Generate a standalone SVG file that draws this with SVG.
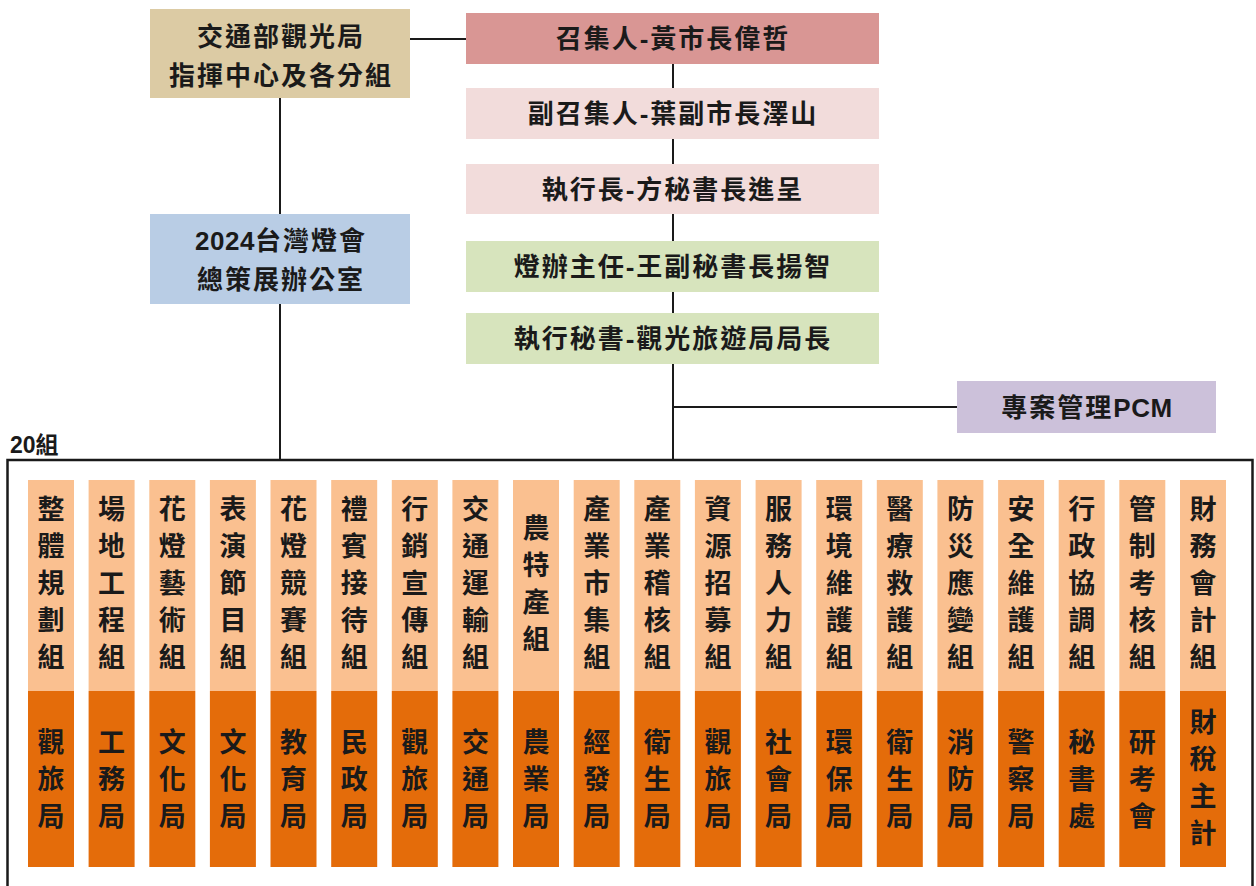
<svg xmlns="http://www.w3.org/2000/svg" width="1256" height="886" viewBox="0 0 1256 886">
<style>
text{font-family:"Liberation Sans","Noto Sans CJK TC","Noto Sans CJK SC",sans-serif;font-weight:bold;fill:#1a1a1a}
.t{font-size:26px;letter-spacing:2px;text-anchor:middle}
.la{letter-spacing:0.5px}
.c{font-size:27px;text-anchor:middle}
.ln{stroke:#1a1a1a;stroke-width:2;fill:none}
.lt{fill:#fac090}
.dk{fill:#e46c0a}
</style>
<rect width="1256" height="886" fill="#ffffff"/>
<g id="connectors">
<line class="ln" x1="410" y1="39" x2="466" y2="39"/>
<line class="ln" x1="280" y1="98" x2="280" y2="214"/>
<line class="ln" x1="280" y1="304" x2="280" y2="460"/>
<line class="ln" x1="673" y1="64" x2="673" y2="460"/>
<line class="ln" x1="673" y1="407" x2="957" y2="407"/>
</g>
<g id="n-moc">
<rect x="150" y="9" width="260" height="89" fill="#dccba4"/>
<text class="t" x="281" y="46">交通部觀光局</text>
<text class="t" x="281" y="85">指揮中心及各分組</text>
</g>
<g id="n-convener">
<rect x="466" y="13" width="413" height="51" fill="#d99694"/>
<text class="t" x="673" y="48">召集人-黃市長偉哲</text>
</g>
<g id="n-deputy">
<rect x="466" y="88" width="413" height="51" fill="#f2dcdb"/>
<text class="t" x="673" y="123">副召集人-葉副市長澤山</text>
</g>
<g id="n-ceo">
<rect x="466" y="164" width="413" height="50" fill="#f2dcdb"/>
<text class="t" x="673" y="199">執行長-方秘書長進呈</text>
</g>
<g id="n-director">
<rect x="466" y="241" width="413" height="51" fill="#d7e4bd"/>
<text class="t" x="673" y="276">燈辦主任-王副秘書長揚智</text>
</g>
<g id="n-secretary">
<rect x="466" y="313" width="413" height="51" fill="#d7e4bd"/>
<text class="t" x="673" y="348">執行秘書-觀光旅遊局局長</text>
</g>
<g id="n-office">
<rect x="150" y="214" width="260" height="90" fill="#b9cde5"/>
<text class="t" x="281" y="250"><tspan class="la">2024</tspan>台灣燈會</text>
<text class="t" x="281" y="289">總策展辦公室</text>
</g>
<g id="n-pcm">
<rect x="957" y="381" width="259" height="52" fill="#ccc1da"/>
<text class="t" x="1087" y="417">專案管理<tspan class="la">PCM</tspan></text>
</g>
<g id="groups">
<text x="10" y="453" style="font-size:23px">20組</text>
<rect x="7.5" y="460" width="1245" height="440" fill="none" stroke="#1a1a1a" stroke-width="2.5"/>
</g>
<g id="g1"><rect class="lt" x="28" y="480" width="46" height="211"/><rect class="dk" x="28" y="691" width="46" height="176"/>
<text class="c"><tspan x="51" y="519">整</tspan><tspan x="51" y="556">體</tspan><tspan x="51" y="593">規</tspan><tspan x="51" y="630">劃</tspan><tspan x="51" y="667">組</tspan></text>
<text class="c"><tspan x="51" y="752">觀</tspan><tspan x="51" y="789">旅</tspan><tspan x="51" y="826">局</tspan></text></g>
<g id="g2"><rect class="lt" x="88.6" y="480" width="46" height="211"/><rect class="dk" x="88.6" y="691" width="46" height="176"/>
<text class="c"><tspan x="111.6" y="519">場</tspan><tspan x="111.6" y="556">地</tspan><tspan x="111.6" y="593">工</tspan><tspan x="111.6" y="630">程</tspan><tspan x="111.6" y="667">組</tspan></text>
<text class="c"><tspan x="111.6" y="752">工</tspan><tspan x="111.6" y="789">務</tspan><tspan x="111.6" y="826">局</tspan></text></g>
<g id="g3"><rect class="lt" x="149.3" y="480" width="46" height="211"/><rect class="dk" x="149.3" y="691" width="46" height="176"/>
<text class="c"><tspan x="172.3" y="519">花</tspan><tspan x="172.3" y="556">燈</tspan><tspan x="172.3" y="593">藝</tspan><tspan x="172.3" y="630">術</tspan><tspan x="172.3" y="667">組</tspan></text>
<text class="c"><tspan x="172.3" y="752">文</tspan><tspan x="172.3" y="789">化</tspan><tspan x="172.3" y="826">局</tspan></text></g>
<g id="g4"><rect class="lt" x="209.9" y="480" width="46" height="211"/><rect class="dk" x="209.9" y="691" width="46" height="176"/>
<text class="c"><tspan x="232.9" y="519">表</tspan><tspan x="232.9" y="556">演</tspan><tspan x="232.9" y="593">節</tspan><tspan x="232.9" y="630">目</tspan><tspan x="232.9" y="667">組</tspan></text>
<text class="c"><tspan x="232.9" y="752">文</tspan><tspan x="232.9" y="789">化</tspan><tspan x="232.9" y="826">局</tspan></text></g>
<g id="g5"><rect class="lt" x="270.5" y="480" width="46" height="211"/><rect class="dk" x="270.5" y="691" width="46" height="176"/>
<text class="c"><tspan x="293.5" y="519">花</tspan><tspan x="293.5" y="556">燈</tspan><tspan x="293.5" y="593">競</tspan><tspan x="293.5" y="630">賽</tspan><tspan x="293.5" y="667">組</tspan></text>
<text class="c"><tspan x="293.5" y="752">教</tspan><tspan x="293.5" y="789">育</tspan><tspan x="293.5" y="826">局</tspan></text></g>
<g id="g6"><rect class="lt" x="331.2" y="480" width="46" height="211"/><rect class="dk" x="331.2" y="691" width="46" height="176"/>
<text class="c"><tspan x="354.2" y="519">禮</tspan><tspan x="354.2" y="556">賓</tspan><tspan x="354.2" y="593">接</tspan><tspan x="354.2" y="630">待</tspan><tspan x="354.2" y="667">組</tspan></text>
<text class="c"><tspan x="354.2" y="752">民</tspan><tspan x="354.2" y="789">政</tspan><tspan x="354.2" y="826">局</tspan></text></g>
<g id="g7"><rect class="lt" x="391.8" y="480" width="46" height="211"/><rect class="dk" x="391.8" y="691" width="46" height="176"/>
<text class="c"><tspan x="414.8" y="519">行</tspan><tspan x="414.8" y="556">銷</tspan><tspan x="414.8" y="593">宣</tspan><tspan x="414.8" y="630">傳</tspan><tspan x="414.8" y="667">組</tspan></text>
<text class="c"><tspan x="414.8" y="752">觀</tspan><tspan x="414.8" y="789">旅</tspan><tspan x="414.8" y="826">局</tspan></text></g>
<g id="g8"><rect class="lt" x="452.4" y="480" width="46" height="211"/><rect class="dk" x="452.4" y="691" width="46" height="176"/>
<text class="c"><tspan x="475.4" y="519">交</tspan><tspan x="475.4" y="556">通</tspan><tspan x="475.4" y="593">運</tspan><tspan x="475.4" y="630">輸</tspan><tspan x="475.4" y="667">組</tspan></text>
<text class="c"><tspan x="475.4" y="752">交</tspan><tspan x="475.4" y="789">通</tspan><tspan x="475.4" y="826">局</tspan></text></g>
<g id="g9"><rect class="lt" x="513" y="480" width="46" height="211"/><rect class="dk" x="513" y="691" width="46" height="176"/>
<text class="c"><tspan x="536" y="538">農</tspan><tspan x="536" y="575">特</tspan><tspan x="536" y="612">產</tspan><tspan x="536" y="649">組</tspan></text>
<text class="c"><tspan x="536" y="752">農</tspan><tspan x="536" y="789">業</tspan><tspan x="536" y="826">局</tspan></text></g>
<g id="g10"><rect class="lt" x="573.7" y="480" width="46" height="211"/><rect class="dk" x="573.7" y="691" width="46" height="176"/>
<text class="c"><tspan x="596.7" y="519">產</tspan><tspan x="596.7" y="556">業</tspan><tspan x="596.7" y="593">市</tspan><tspan x="596.7" y="630">集</tspan><tspan x="596.7" y="667">組</tspan></text>
<text class="c"><tspan x="596.7" y="752">經</tspan><tspan x="596.7" y="789">發</tspan><tspan x="596.7" y="826">局</tspan></text></g>
<g id="g11"><rect class="lt" x="634.3" y="480" width="46" height="211"/><rect class="dk" x="634.3" y="691" width="46" height="176"/>
<text class="c"><tspan x="657.3" y="519">產</tspan><tspan x="657.3" y="556">業</tspan><tspan x="657.3" y="593">稽</tspan><tspan x="657.3" y="630">核</tspan><tspan x="657.3" y="667">組</tspan></text>
<text class="c"><tspan x="657.3" y="752">衛</tspan><tspan x="657.3" y="789">生</tspan><tspan x="657.3" y="826">局</tspan></text></g>
<g id="g12"><rect class="lt" x="694.9" y="480" width="46" height="211"/><rect class="dk" x="694.9" y="691" width="46" height="176"/>
<text class="c"><tspan x="717.9" y="519">資</tspan><tspan x="717.9" y="556">源</tspan><tspan x="717.9" y="593">招</tspan><tspan x="717.9" y="630">募</tspan><tspan x="717.9" y="667">組</tspan></text>
<text class="c"><tspan x="717.9" y="752">觀</tspan><tspan x="717.9" y="789">旅</tspan><tspan x="717.9" y="826">局</tspan></text></g>
<g id="g13"><rect class="lt" x="755.6" y="480" width="46" height="211"/><rect class="dk" x="755.6" y="691" width="46" height="176"/>
<text class="c"><tspan x="778.6" y="519">服</tspan><tspan x="778.6" y="556">務</tspan><tspan x="778.6" y="593">人</tspan><tspan x="778.6" y="630">力</tspan><tspan x="778.6" y="667">組</tspan></text>
<text class="c"><tspan x="778.6" y="752">社</tspan><tspan x="778.6" y="789">會</tspan><tspan x="778.6" y="826">局</tspan></text></g>
<g id="g14"><rect class="lt" x="816.2" y="480" width="46" height="211"/><rect class="dk" x="816.2" y="691" width="46" height="176"/>
<text class="c"><tspan x="839.2" y="519">環</tspan><tspan x="839.2" y="556">境</tspan><tspan x="839.2" y="593">維</tspan><tspan x="839.2" y="630">護</tspan><tspan x="839.2" y="667">組</tspan></text>
<text class="c"><tspan x="839.2" y="752">環</tspan><tspan x="839.2" y="789">保</tspan><tspan x="839.2" y="826">局</tspan></text></g>
<g id="g15"><rect class="lt" x="876.8" y="480" width="46" height="211"/><rect class="dk" x="876.8" y="691" width="46" height="176"/>
<text class="c"><tspan x="899.8" y="519">醫</tspan><tspan x="899.8" y="556">療</tspan><tspan x="899.8" y="593">救</tspan><tspan x="899.8" y="630">護</tspan><tspan x="899.8" y="667">組</tspan></text>
<text class="c"><tspan x="899.8" y="752">衛</tspan><tspan x="899.8" y="789">生</tspan><tspan x="899.8" y="826">局</tspan></text></g>
<g id="g16"><rect class="lt" x="937.4" y="480" width="46" height="211"/><rect class="dk" x="937.4" y="691" width="46" height="176"/>
<text class="c"><tspan x="960.4" y="519">防</tspan><tspan x="960.4" y="556">災</tspan><tspan x="960.4" y="593">應</tspan><tspan x="960.4" y="630">變</tspan><tspan x="960.4" y="667">組</tspan></text>
<text class="c"><tspan x="960.4" y="752">消</tspan><tspan x="960.4" y="789">防</tspan><tspan x="960.4" y="826">局</tspan></text></g>
<g id="g17"><rect class="lt" x="998.1" y="480" width="46" height="211"/><rect class="dk" x="998.1" y="691" width="46" height="176"/>
<text class="c"><tspan x="1021.1" y="519">安</tspan><tspan x="1021.1" y="556">全</tspan><tspan x="1021.1" y="593">維</tspan><tspan x="1021.1" y="630">護</tspan><tspan x="1021.1" y="667">組</tspan></text>
<text class="c"><tspan x="1021.1" y="752">警</tspan><tspan x="1021.1" y="789">察</tspan><tspan x="1021.1" y="826">局</tspan></text></g>
<g id="g18"><rect class="lt" x="1058.7" y="480" width="46" height="211"/><rect class="dk" x="1058.7" y="691" width="46" height="176"/>
<text class="c"><tspan x="1081.7" y="519">行</tspan><tspan x="1081.7" y="556">政</tspan><tspan x="1081.7" y="593">協</tspan><tspan x="1081.7" y="630">調</tspan><tspan x="1081.7" y="667">組</tspan></text>
<text class="c"><tspan x="1081.7" y="752">秘</tspan><tspan x="1081.7" y="789">書</tspan><tspan x="1081.7" y="826">處</tspan></text></g>
<g id="g19"><rect class="lt" x="1119.3" y="480" width="46" height="211"/><rect class="dk" x="1119.3" y="691" width="46" height="176"/>
<text class="c"><tspan x="1142.3" y="519">管</tspan><tspan x="1142.3" y="556">制</tspan><tspan x="1142.3" y="593">考</tspan><tspan x="1142.3" y="630">核</tspan><tspan x="1142.3" y="667">組</tspan></text>
<text class="c"><tspan x="1142.3" y="752">研</tspan><tspan x="1142.3" y="789">考</tspan><tspan x="1142.3" y="826">會</tspan></text></g>
<g id="g20"><rect class="lt" x="1180" y="480" width="46" height="211"/><rect class="dk" x="1180" y="691" width="46" height="176"/>
<text class="c"><tspan x="1203" y="519">財</tspan><tspan x="1203" y="556">務</tspan><tspan x="1203" y="593">會</tspan><tspan x="1203" y="630">計</tspan><tspan x="1203" y="667">組</tspan></text>
<text class="c"><tspan x="1203" y="732">財</tspan><tspan x="1203" y="769">稅</tspan><tspan x="1203" y="806">主</tspan><tspan x="1203" y="843">計</tspan></text></g>
</svg>
